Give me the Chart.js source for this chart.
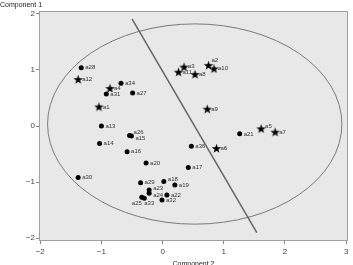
<!DOCTYPE html>
<html lang="en">
<head>
    <meta charset="UTF-8">
    <title>Component plot</title>
    <script src="https://cdn.jsdelivr.net/npm/chart.js"></script>
    <style>
        html, body { margin: 0; padding: 0; background: #fff; }
        #wrap { width: 353px; height: 265px; }
    </style>
</head>
<body>
<div id="wrap"><canvas id="compChart" width="353" height="265"></canvas></div>
<script>
    // stars (first group)
    const starNames = ['a1', 'a2', 'a3', 'a4', 'a5', 'a6', 'a7', 'a8', 'a9', 'a10', 'a11', 'a12'];
    const starX = [-1.04, 0.75, 0.35, -0.86, 1.61, 0.88, 1.84, 0.53, 0.73, 0.84, 0.26, -1.38];
    const starY = [0.34, 1.08, 1.05, 0.67, -0.05, -0.40, -0.11, 0.92, 0.30, 1.02, 0.96, 0.83];

    // dots (second group)
    const dotNames = ['a13', 'a14', 'a15', 'a16', 'a17', 'a18', 'a19', 'a20', 'a21', 'a22', 'a23', 'a24',
        'a25', 'a26', 'a27', 'a28', 'a29', 'a30', 'a31', 'a32', 'a33', 'a34', 'a36'];
    const dotX = [-1.00, -1.03, -0.51, -0.58, 0.42, 0.02, 0.20, -0.27, 1.26, 0.07, -0.22, -0.22,
        -0.34, -0.54, -0.49, -1.33, -0.36, -1.38, -0.92, -0.01, -0.30, -0.68, 0.47];
    const dotY = [0.00, -0.31, -0.18, -0.46, -0.74, -0.99, -1.05, -0.66, -0.14, -1.23, -1.14, -1.20,
        -1.27, -0.17, 0.59, 1.04, -1.01, -0.92, 0.57, -1.32, -1.29, 0.76, -0.36];

    // separating line and ellipse
    const lineX = [-0.50, 1.54];
    const lineY = [1.91, -1.90];
    const ellipseCenter = [0.525, 0.035];
    const ellipseRadii = [2.405, 1.785];

    const xTicks = [-2, -1, 0, 1, 2, 3];
    const yTicks = [-2, -1, 0, 1, 2];

    // label nudges (pixels) for crowded points
    const nudge = {
        a2: [3, -5], a5: [4, -2], a15: [4, 2], a26: [4, -3], a23: [4, -2], a24: [4, 2],
        a25: [-10, 6], a33: [0, 5], a18: [4, -2], a3: [4, -1]
    };

    function starImage() {
        const c = document.createElement('canvas');
        c.width = 11; c.height = 11;
        const g = c.getContext('2d');
        g.fillStyle = '#000';
        g.beginPath();
        for (let i = 0; i < 10; i++) {
            const r = i % 2 ? 2.0 : 5.0;
            const a = -Math.PI / 2 + i * Math.PI / 5;
            const px = 5.5 + r * Math.cos(a), py = 5.8 + r * Math.sin(a);
            i ? g.lineTo(px, py) : g.moveTo(px, py);
        }
        g.closePath();
        g.fill();
        return c;
    }

    const toPts = (xs, ys, names) => xs.map((x, i) => ({x, y: ys[i], name: names ? names[i] : ''}));

    const fmt = v => (v < 0 ? '\u2212' + Math.abs(v) : String(v));

    const decor = {
        id: 'decor',
        beforeDatasetsDraw(chart) {
            const {ctx, chartArea: a, scales: {x, y}} = chart;
            ctx.save();
            ctx.fillStyle = '#e8e8e8';
            ctx.fillRect(a.left, a.top, a.right - a.left, a.bottom - a.top);
            ctx.strokeStyle = '#a0a0a0';
            ctx.lineWidth = 1;
            ctx.strokeRect(a.left + 0.5, a.top + 0.5, a.right - a.left - 1, a.bottom - a.top - 1);
            // ellipse
            const cx = x.getPixelForValue(ellipseCenter[0]);
            const cy = y.getPixelForValue(ellipseCenter[1]);
            const rx = x.getPixelForValue(ellipseCenter[0] + ellipseRadii[0]) - cx;
            const ry = cy - y.getPixelForValue(ellipseCenter[1] + ellipseRadii[1]);
            ctx.strokeStyle = '#7a7a7a';
            ctx.lineWidth = 1;
            ctx.beginPath();
            ctx.ellipse(cx, cy, rx, ry, 0, 0, Math.PI * 2);
            ctx.stroke();
            ctx.restore();
        },
        afterDatasetsDraw(chart) {
            const {ctx} = chart;
            ctx.save();
            ctx.font = '6px "Liberation Sans", Arial, sans-serif';
            ctx.fillStyle = '#333';
            ctx.textBaseline = 'middle';
            ctx.textAlign = 'left';
            [1, 2].forEach(di => {
                const meta = chart.getDatasetMeta(di);
                meta.data.forEach((el, i) => {
                    const name = chart.data.datasets[di].data[i].name;
                    const n = nudge[name] || [4, 0];
                    ctx.fillText(name, el.x + n[0], el.y + n[1]);
                });
            });
            // axis titles
            ctx.font = '7px "Liberation Sans", Arial, sans-serif';
            ctx.fillStyle = '#222';
            ctx.fillText('Component 1', 0, 5.5);
            ctx.textAlign = 'center';
            const a = chart.chartArea;
            ctx.fillText('Component 2', (a.left + a.right) / 2, 264);
            ctx.restore();
        }
    };

    new Chart(document.getElementById('compChart'), {
        type: 'scatter',
        data: {
            datasets: [
                {
                    type: 'line',
                    data: toPts(lineX, lineY),
                    borderColor: '#666',
                    borderWidth: 1.5,
                    pointRadius: 0,
                    order: 3
                },
                {
                    data: toPts(starX, starY, starNames),
                    pointStyle: starImage(),
                    order: 2
                },
                {
                    data: toPts(dotX, dotY, dotNames),
                    pointStyle: 'circle',
                    pointRadius: 2.5,
                    backgroundColor: '#000',
                    borderColor: '#000',
                    borderWidth: 0,
                    order: 1
                }
            ]
        },
        options: {
            responsive: false,
            animation: false,
            devicePixelRatio: 1,
            layout: {padding: {top: 11, right: 4, left: 0, bottom: 0}},
            plugins: {legend: {display: false}, tooltip: {enabled: false}},
            scales: {
                x: {
                    type: 'linear',
                    min: -2.02, max: 3.03,
                    afterFit: s => { s.height = 24; },
                    afterBuildTicks: s => { s.ticks = xTicks.map(v => ({value: v})); },
                    grid: {drawOnChartArea: false, tickLength: 3, color: '#888'},
                    border: {display: false},
                    ticks: {
                        padding: 3,
                        color: '#444',
                        font: {size: 8, family: '"Liberation Sans", Arial, sans-serif'},
                        callback: v => fmt(v)
                    }
                },
                y: {
                    type: 'linear',
                    min: -2.05, max: 2.05,
                    afterFit: s => { s.width = 39; },
                    afterBuildTicks: s => { s.ticks = yTicks.map(v => ({value: v})); },
                    grid: {drawOnChartArea: false, tickLength: 3, color: '#888'},
                    border: {display: false},
                    ticks: {
                        padding: 1,
                        color: '#444',
                        font: {size: 8, family: '"Liberation Sans", Arial, sans-serif'},
                        callback: v => fmt(v)
                    }
                }
            }
        },
        plugins: [decor]
    });
</script>
</body>
</html>
